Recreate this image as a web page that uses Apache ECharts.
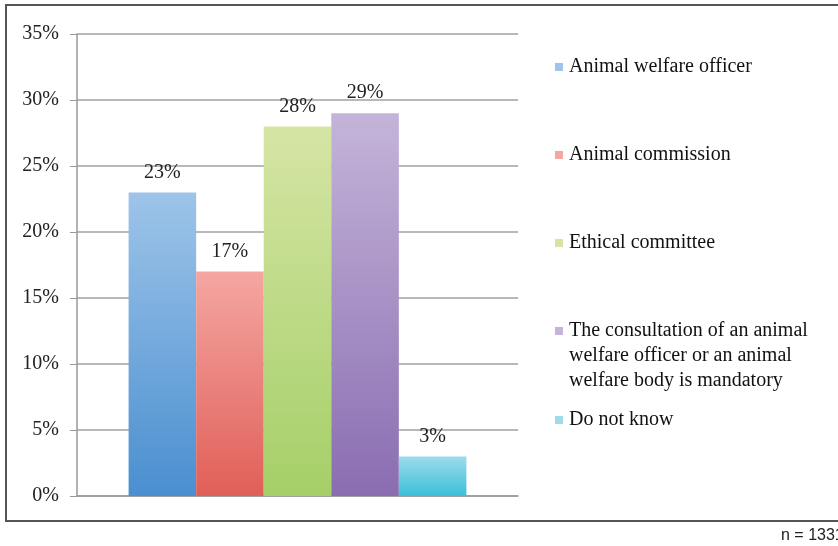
<!DOCTYPE html>
<html>
<head>
<meta charset="utf-8">
<script src="https://cdn.jsdelivr.net/npm/echarts@6/dist/echarts.min.js"></script>
<style>
  html, body { margin: 0; padding: 0; background: #fff; }
  #chart { width: 838px; height: 546px; }
</style>
</head>
<body>
<div id="chart"></div>
<script>
// Who is responsible for the assessment (share of respondents, n = 1331)
const seriesNames = [
  'Animal welfare officer',
  'Animal commission',
  'Ethical committee',
  'The consultation of an animal\nwelfare officer or an animal\nwelfare body is mandatory',
  'Do not know'
];
const seriesValues = [23, 17, 28, 29, 3];
const yTicks = [0, 5, 10, 15, 20, 25, 30, 35];
const gradientTop = ['#9ec4e9', '#f5a6a2', '#d5e5a4', '#c4b4d9', '#9cdcec'];
const gradientBottom = ['#4a8fd0', '#e05f58', '#a5cf68', '#8a6db1', '#3cbfd9'];
const legendTops = [54.5, 142.5, 230.5, 318.5, 407.5];

const serif = '"Liberation Serif", "DejaVu Serif", serif';

// Marker squares; the multi-line entry keeps its square beside the first line
const squareIcon = 'rect';
const topSquareIcon = 'path://M0,0H8V8H0Z M0,58L8,58';

const series = seriesNames.map((name, i) => ({
  name: name,
  type: 'bar',
  data: [seriesValues[i]],
  barGap: '0%',
  barCategoryGap: '23.4%',
  itemStyle: {
    color: new echarts.graphic.LinearGradient(0, 0, 0, 1, [
      { offset: 0, color: gradientTop[i] },
      { offset: 1, color: gradientBottom[i] }
    ])
  },
  label: {
    show: true,
    position: 'top',
    distance: 10,
    formatter: '{c}%',
    fontFamily: serif,
    fontSize: 20,
    color: '#222'
  }
}));

const legends = seriesNames.map((name, i) => {
  const multi = name.indexOf('\n') >= 0;
  return {
    data: [{ name: name, icon: multi ? topSquareIcon : squareIcon, itemStyle: { color: gradientTop[i] } }],
    orient: 'vertical',
    left: 555,
    top: legendTops[i],
    padding: 0,
    itemWidth: 8,
    itemHeight: multi ? 58 : 8,
    itemGap: 0,
    selectedMode: false,
    textStyle: {
      fontFamily: serif,
      fontSize: 20,
      lineHeight: 25,
      color: '#111',
      padding: [0, 0, 0, 1]
    }
  };
});

const chart = echarts.init(document.getElementById('chart'));
chart.setOption({
  animation: false,
  backgroundColor: '#fff',
  grid: { left: 77, right: 320, top: 34, bottom: 50, containLabel: false },
  legend: legends,
  xAxis: {
    type: 'category',
    data: [''],
    axisLine: { show: true, lineStyle: { color: '#999', width: 1.5 } },
    axisTick: { show: false },
    axisLabel: { show: false }
  },
  yAxis: {
    type: 'value',
    min: yTicks[0],
    max: yTicks[yTicks.length - 1],
    interval: 5,
    axisLine: { show: true, lineStyle: { color: '#999', width: 1.5 } },
    axisTick: { show: true, length: 7, lineStyle: { color: '#999' } },
    splitLine: { show: true, lineStyle: { color: '#a0a0a0', width: 1.5 } },
    axisLabel: {
      formatter: '{value}%',
      margin: 18,
      fontFamily: serif,
      fontSize: 20,
      color: '#222'
    }
  },
  series: series,
  graphic: [
    {
      type: 'rect',
      shape: { x: 6, y: 5, width: 840, height: 516 },
      style: { fill: 'none', stroke: '#555', lineWidth: 2 },
      silent: true
    },
    {
      type: 'text',
      left: 781,
      top: 528,
      style: {
        text: 'n = 1331',
        font: '16px "Liberation Sans", Arial, sans-serif',
        fill: '#222'
      }
    }
  ]
});
</script>
</body>
</html>
